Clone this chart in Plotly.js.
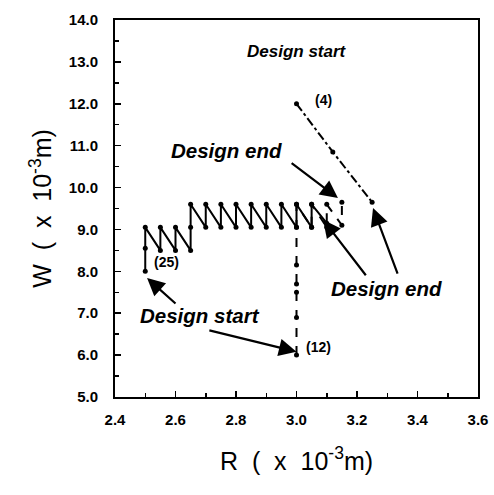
<!DOCTYPE html>
<html><head><meta charset="utf-8">
<script src="https://cdn.plot.ly/plotly-3.0.1.min.js"></script>
<style>html,body{margin:0;padding:0;background:#fff}#chart{width:494px;height:495px}</style>
</head><body><div id="chart"></div>
<script>
// Path with 25 designers (solid)
const r25 = [2.50,2.50,2.50,2.55,2.55,2.60,2.60,2.65,2.65,2.65,2.70,2.70,2.75,2.75,2.80,2.80,2.85,2.85,2.90,2.90,2.95,2.95,3.00,3.00,3.05,3.05,3.10];
const w25 = [8.00,8.55,9.05,8.50,9.05,8.50,9.05,8.50,9.05,9.60,9.05,9.60,9.05,9.60,9.05,9.60,9.05,9.60,9.05,9.60,9.05,9.60,9.05,9.60,9.05,9.60,9.15];
// Path with 12 designers (dashed)
const r12 = [3.00,3.00,3.00,3.00,3.00,3.00,3.00,3.05,3.05,3.10,3.10,3.15,3.15];
const w12 = [6.00,6.90,7.50,7.70,8.15,9.05,9.60,9.05,9.60,9.05,9.60,9.10,9.65];
// Path with 4 designers (dash-dot)
const r4 = [3.00,3.12,3.25];
const w4 = [12.00,10.85,9.65];

const lineStyle = {color:'#000', width:2};
const mk = {color:'#000', size:5};
const traces = [
  {x:r25, y:w25, mode:'lines+markers', line:{...lineStyle, dash:'solid'}, marker:mk, hoverinfo:'skip'},
  {x:r12, y:w12, mode:'lines+markers', line:{...lineStyle, dash:'dash'}, marker:mk, hoverinfo:'skip'},
  {x:r4, y:w4, mode:'lines+markers', line:{...lineStyle, dash:'dashdot'}, marker:mk, hoverinfo:'skip'}
];

const AF = 'Liberation Sans, Arial, sans-serif';
const txtFont = {family:AF, size:20.5, color:'#000', weight:'bold', style:'italic'};
const topFont = {family:AF, size:17, color:'#000', weight:'bold', style:'italic'};
const lblFont = {family:AF, size:14, color:'#000', weight:'bold'};
function txt(x,y,t,f){return {x:x,y:y,xref:'x',yref:'y',text:t,showarrow:false,font:f};}
function arr(x,y,ax,ay){return {x:x,y:y,ax:ax,ay:ay,xref:'x',yref:'y',axref:'x',ayref:'y',text:'',showarrow:true,arrowhead:2,arrowsize:1.6,arrowwidth:2.2,arrowcolor:'#000'};}

const annotations = [
  txt(3.0,13.24,'<i>Design start</i>',topFont),
  txt(3.088,12.08,'(4)',lblFont),
  txt(2.77,10.88,'<i>Design end</i>',txtFont),
  txt(3.296,7.60,'<i>Design end</i>',txtFont),
  txt(2.68,6.94,'<i>Design start</i>',txtFont),
  txt(2.569,8.22,'(25)',lblFont),
  txt(3.074,6.20,'(12)',lblFont),
  arr(2.506,7.84,2.605,7.20),
  arr(3.0,6.08,2.707,6.60),
  arr(3.137,9.75,2.979,10.61),
  arr(3.088,9.23,3.233,7.87),
  arr(3.253,9.51,3.336,7.91)
];

const tickFont = {family:AF, size:15, color:'#000', weight:'bold'};
const layout = {
  width:494, height:495,
  margin:{l:115, r:16, t:20, b:98},
  paper_bgcolor:'#fff', plot_bgcolor:'#fff',
  showlegend:false,
  xaxis:{range:[2.4,3.6], dtick:0.2, tick0:2.4, tickformat:'.1f', ticks:'inside', ticklen:6, tickwidth:1.5, tickcolor:'#000',
    minor:{dtick:0.1, ticks:'inside', ticklen:4, tickcolor:'#000'},
    showgrid:false, zeroline:false, showline:true, linecolor:'#000', linewidth:2, mirror:true,
    tickfont:tickFont, ticklabelstandoff:8,
    title:{text:'R  (  x  10<sup>-3</sup>m)', font:{family:AF, size:25, color:'#000'}, standoff:25}},
  yaxis:{range:[5,14], dtick:1, tick0:5, tickformat:'.1f', ticks:'inside', ticklen:6, tickwidth:1.5, tickcolor:'#000',
    minor:{dtick:0.5, ticks:'inside', ticklen:4, tickcolor:'#000'},
    showgrid:false, zeroline:false, showline:true, linecolor:'#000', linewidth:2, mirror:true,
    tickfont:tickFont, ticklabelstandoff:12,
    title:{text:'W  (  x  10<sup>-3</sup>m)', font:{family:AF, size:25, color:'#000'}, standoff:10}},
  annotations:annotations
};
Plotly.newPlot('chart', traces, layout, {staticPlot:true, displayModeBar:false});
</script></body></html>
